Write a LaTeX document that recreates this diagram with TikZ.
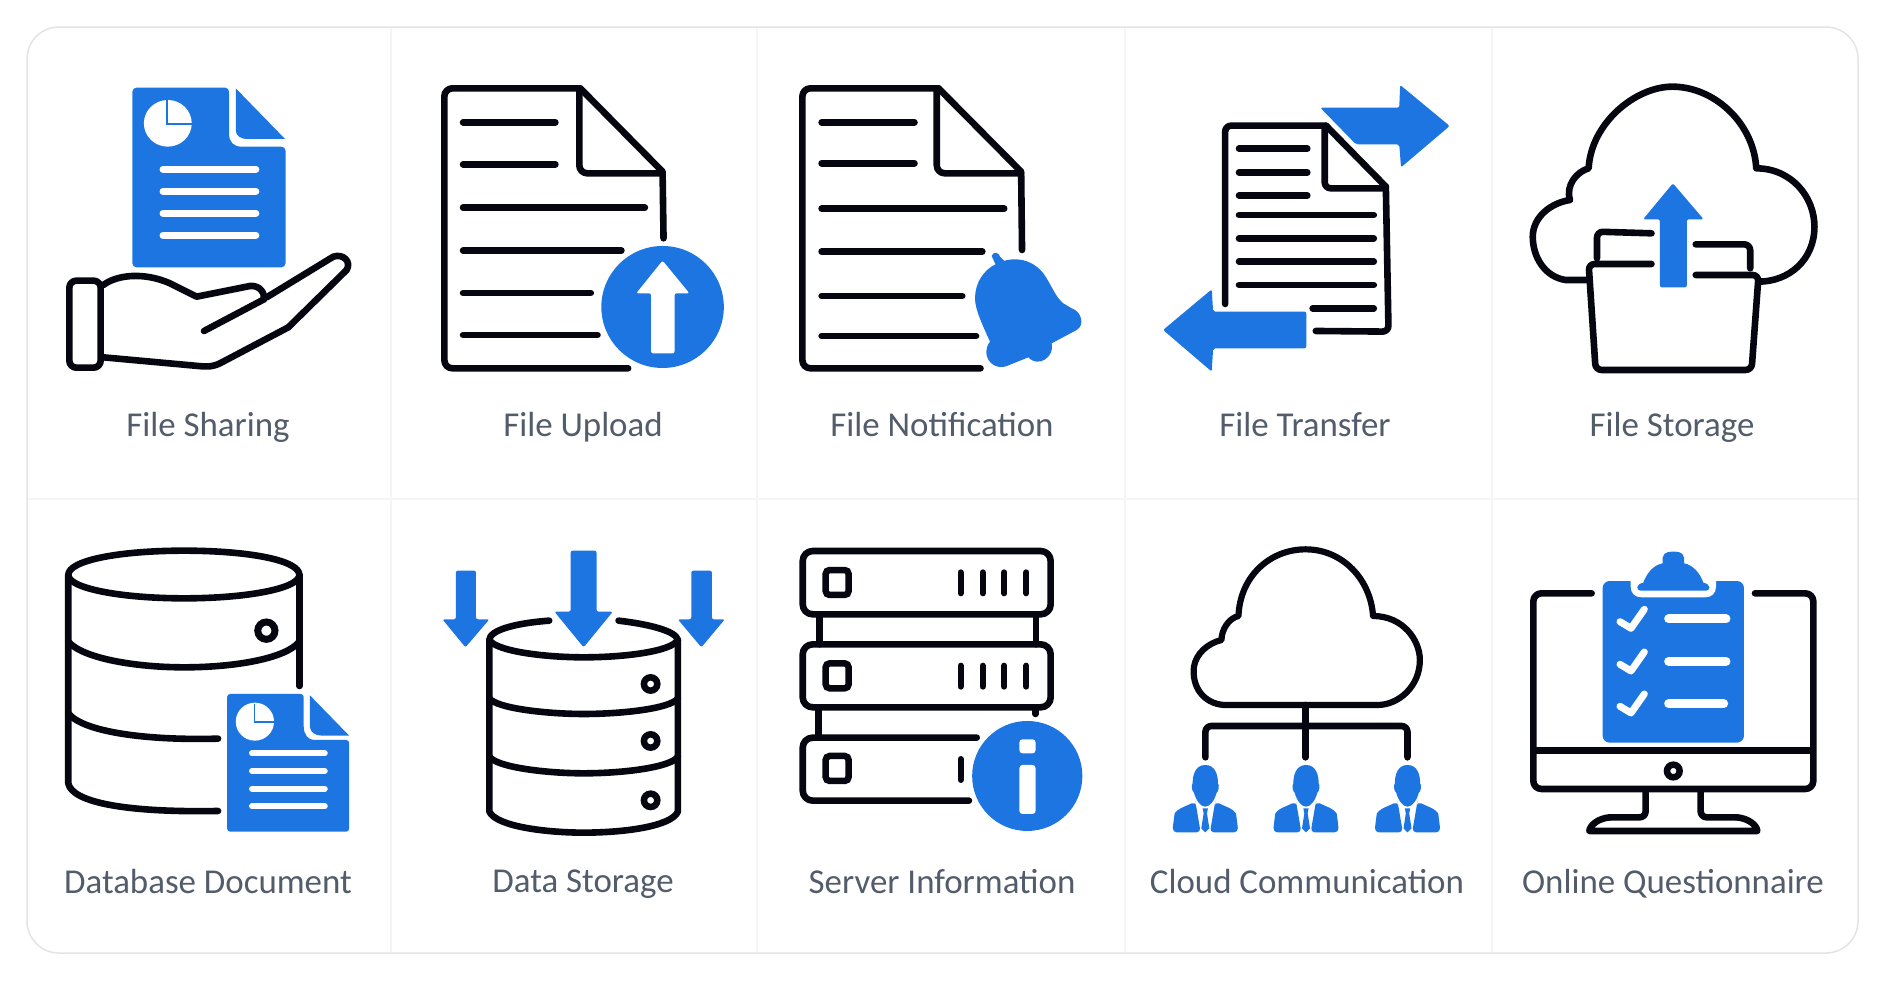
\documentclass[tikz,border=0pt]{standalone}
\usepackage{fontspec}
\setmainfont{Carlito}
\definecolor{iconblue}{HTML}{1D75E1}
\definecolor{ink}{HTML}{05060F}
\definecolor{labelgrey}{HTML}{525C6B}
\definecolor{cardedge}{HTML}{E4E4E7}
\definecolor{gridline}{HTML}{F5F5F7}
\tikzset{
  zonea/.style={shift={(30,30)},xscale=0.4785,yscale=0.3333},
  zoneb/.style={shift={(760,30)},xscale=0.4464,yscale=0.3333},
  zonec/.style={shift={(1130,60)},xscale=0.4656,yscale=0.3333},
  zoned/.style={shift={(30,510)},xscale=0.4785,yscale=0.3333},
  zonee/.style={shift={(760,510)},xscale=0.4592,yscale=0.3333},
  zonef/.style={shift={(1480,510)},xscale=0.3333,yscale=0.3333},
  ic/.style={draw=ink,line width=6.6pt,line cap=round,line join=round},
  wl/.style={draw=white,line width=7pt,line cap=round},
  bf/.style={fill=iconblue,rounded corners=2pt},
  lab/.style={text=labelgrey,anchor=base,font=\fontsize{34.9}{40}\selectfont,inner sep=0pt}
}
\begin{document}
\begin{tikzpicture}[x=1pt,y=-1pt]
\fill[white] (0,0) rectangle (1885,980);
\useasboundingbox (0,0) rectangle (1885,980);
% card
\draw[gridline,line width=1.5pt] (391,28)--(391,952) (757,28)--(757,952) (1125,28)--(1125,952) (1492,28)--(1492,952) (28,499)--(1857,499);
\draw[cardedge,line width=1.5pt,rounded corners=32pt] (27,27) rectangle (1858,953);

% ---- File Sharing
\begin{scope}[zonea]
\fill[bf,rounded corners=4pt] (214,173) -- (416,173) -- (416,300) .. controls (416,335) and (425,350) .. (450,350) -- (534,350) -- (534,712) -- (214,712) -- cycle;
\fill[iconblue] (430,175) -- (533,327) -- (455,327) .. controls (438,327) and (430,315) .. (430,300) -- cycle;
\fill[white] (288,280) ellipse [x radius=50,y radius=70];
\draw[iconblue,line width=2pt] (286,208) -- (286,283) -- (340,283);
\foreach \y in {418,484,550,616} \draw[wl] (278,\y) -- (472,\y);
\end{scope}
\begin{scope}[shift={(55,240)},scale=0.3333]
\draw[ic,rounded corners=7pt] (43,122) rectangle (137,383);
\draw[ic] (145,135) .. controls (185,105) and (265,95) .. (345,130) -- (425,170) -- (585,138) .. controls (615,135) and (630,160) .. (627,178) -- (447,273);
\draw[ic] (635,172) -- (835,50) .. controls (865,40) and (890,65) .. (875,90) -- (700,262) -- (495,370) .. controls (470,382) and (450,380) .. (430,378) -- (145,352);
\end{scope}

% ---- File Upload
\begin{scope}[zonea]
\draw[ic,rounded corners=8pt] (1250,1015) -- (866,1015) -- (866,175) -- (1150,175);
\draw[ic] (1150,175) -- (1322,425) -- (1324,625);
\draw[ic,rounded corners=8pt] (1148,180) -- (1148,430) -- (1322,430);
\draw[ic] (905,277) -- (1098,277) (905,403) -- (1098,403) (905,533) -- (1285,533) (905,662) -- (1236,662) (905,789) -- (1172,789) (905,915) -- (1186,915);
\fill[iconblue] (1322,831) ellipse [x radius=128,y radius=183];
\fill[white,rounded corners=2pt] (1322,692) -- (1378,790) -- (1347,790) -- (1347,970) -- (1298,970) -- (1298,790) -- (1267,790) -- cycle;
\end{scope}

% ---- File Notification
\begin{scope}[zoneb]
\draw[ic,rounded corners=8pt] (494,1015) -- (95,1015) -- (95,175) -- (400,175);
\draw[ic] (400,175) -- (585,425) -- (587,660);
\draw[ic,rounded corners=8pt] (396,180) -- (396,430) -- (585,430);
\draw[ic] (138,277) -- (346,277) (138,400) -- (346,400) (138,536) -- (547,536) (138,665) -- (498,665) (138,798) -- (453,798) (138,918) -- (484,918);
\end{scope}
\begin{scope}[shift={(960,240)},scale=0.3333]
\fill[iconblue] (108,72) .. controls (150,50) and (210,50) .. (250,100) .. controls (275,135) and (285,170) .. (310,190) -- (335,205) .. controls (365,215) and (375,255) .. (350,270) -- (275,310) .. controls (285,350) and (235,385) .. (205,352) -- (135,380) .. controls (95,390) and (60,345) .. (90,305) .. controls (70,260) and (45,210) .. (45,175) .. controls (45,130) and (70,90) .. (108,72) -- cycle;
\fill[iconblue] (95,48) .. controls (100,32) and (118,38) .. (120,50) -- (132,62) -- (108,76) -- cycle;
\end{scope}

% ---- File Transfer
\begin{scope}[zoneb]
\fill[bf] (1255,233) -- (1432,233) -- (1434,165) -- (1545,288) -- (1436,412) -- (1432,343) -- (1335,343) -- cycle;
\draw[ic,rounded corners=6pt] (1042,822) -- (1042,287) -- (1268,287);
\draw[ic] (1268,287) -- (1402,470);
\draw[ic,rounded corners=6pt] (1402,470) -- (1408,905) -- (1245,903);
\draw[ic,rounded corners=6pt] (1265,290) -- (1265,475) -- (1400,475);
\draw[ic] (1073,356) -- (1226,356) (1073,427) -- (1226,427) (1073,497) -- (1226,497) (1073,555) -- (1375,555) (1073,625) -- (1375,625) (1073,695) -- (1375,695) (1073,765) -- (1375,765) (1238,835) -- (1375,835);
\fill[bf] (903,900) -- (1012,778) -- (1015,845) -- (1224,845) -- (1224,955) -- (1015,955) -- (1012,1025) -- cycle;
\end{scope}

% ---- File Storage
\begin{scope}[zonec]
\draw[ic,line join=round] (980,660) -- (935,660) .. controls (890,650) and (865,590) .. (865,530) .. controls (865,475) and (900,430) .. (945,420) .. controls (935,375) and (960,335) .. (985,325) .. controls (990,190) and (1085,80) .. (1165,80) .. controls (1255,80) and (1340,190) .. (1345,325) .. controls (1420,325) and (1470,410) .. (1470,500) .. controls (1470,600) and (1415,665) .. (1350,665);
\draw[ic,rounded corners=6pt] (1120,612) -- (985,612) -- (1000,930) -- (1335,930) -- (1350,645) -- (1215,645);
\draw[ic,rounded corners=6pt] (1120,520) -- (1003,515) -- (1003,595);
\draw[ic,rounded corners=6pt] (1215,553) -- (1332,553) -- (1332,625);
\fill[bf] (1166,370) -- (1232,478) -- (1196,478) -- (1196,682) -- (1138,682) -- (1138,478) -- (1102,478) -- cycle;
\end{scope}

% ---- Database Document
\begin{scope}[zoned]
\draw[ic] (322,122) .. controls (190,122) and (80,150) .. (80,195) .. controls (80,235) and (190,265) .. (322,265) .. controls (455,265) and (563,235) .. (563,195) .. controls (563,150) and (455,122) .. (322,122) -- cycle;
\draw[ic] (80,195) -- (80,820) .. controls (88,880) and (210,908) .. (393,903);
\draw[ic] (563,195) -- (563,528);
\draw[ic] (80,395) .. controls (110,445) and (220,472) .. (322,472) .. controls (430,472) and (535,445) .. (563,395);
\draw[ic] (80,610) .. controls (110,665) and (240,692) .. (393,686);
\draw[ink,line width=7pt] (494,362) ellipse [x radius=18,y radius=26];
\fill[bf,rounded corners=3pt] (412,552) -- (572,552) -- (572,640) .. controls (572,675) and (582,690) .. (600,690) -- (667,690) -- (667,965) -- (412,965) -- cycle;
\fill[iconblue] (585,556) -- (667,677) -- (610,677) .. controls (595,677) and (585,665) .. (585,650) -- cycle;
\fill[white] (470,635) ellipse [x radius=40,y radius=57];
\draw[iconblue,line width=1.5pt] (469,583) -- (469,636) -- (512,636);
\foreach \y in {730,783,836,889} \draw[draw=white,line width=6pt,line cap=round] (464,\y) -- (616,\y);
\end{scope}

% ---- Data Storage
\begin{scope}[zoned]
\draw[ic] (1085,332) .. controls (1010,340) and (960,362) .. (960,390) .. controls (975,425) and (1080,442) .. (1157,442) .. controls (1240,442) and (1340,425) .. (1354,390) .. controls (1350,362) and (1290,342) .. (1230,332);
\draw[ic] (960,390) -- (960,905) .. controls (975,950) and (1080,968) .. (1157,968) .. controls (1240,968) and (1340,950) .. (1354,905) -- (1354,390);
\draw[ic] (960,565) .. controls (975,595) and (1080,612) .. (1157,612) .. controls (1240,612) and (1340,595) .. (1354,565);
\draw[ic] (960,740) .. controls (975,772) and (1080,790) .. (1157,790) .. controls (1240,790) and (1340,772) .. (1354,740);
\foreach \y in {522,693,871} \draw[ink,line width=6.5pt] (1297,\y) ellipse [x radius=14,y radius=20];
\fill[bf] (1130,122) -- (1184,122) -- (1184,305) -- (1218,305) -- (1157,412) -- (1096,305) -- (1130,305) -- cycle;
\fill[bf] (890,182) -- (932,182) -- (932,328) -- (960,328) -- (910,412) -- (862,328) -- (890,328) -- cycle;
\fill[bf] (1382,182) -- (1425,182) -- (1425,328) -- (1452,328) -- (1403,412) -- (1354,328) -- (1382,328) -- cycle;
\end{scope}

% ---- Server Information
\begin{scope}[zonee]
\draw[ic,rounded corners=10pt] (93,123) rectangle (633,313);
\draw[ic,rounded corners=10pt] (93,403) rectangle (633,592);
\draw[ic,rounded corners=10pt] (472,683) -- (93,683) -- (93,872) -- (455,872);
\draw[ic] (129,313) -- (129,403) (601,313) -- (601,403) (127,592) -- (127,683) (600,592) -- (600,612);
\foreach \y in {180,460,738} \draw[ink,line width=6.5pt,rounded corners=4pt] (143,\y) rectangle (193,\y+75);
\foreach \x in {437,485,532,580} \draw[ic,line width=6pt] (\x,187) -- (\x,250) (\x,467) -- (\x,530);
\draw[ic,line width=6pt] (437,747) -- (437,810);
\fill[iconblue] (582,798) ellipse [x radius=120,y radius=165];
\fill[white,rounded corners=3pt] (565,688) rectangle (600,730);
\fill[white,rounded corners=3pt] (565,765) rectangle (600,912);
\end{scope}

% ---- Cloud Communication
\begin{scope}[zonee]
\draw[ic,line width=6.2pt] (1345,585) -- (1010,585) .. controls (965,580) and (940,530) .. (945,470) .. controls (950,430) and (975,400) .. (1005,390) .. controls (1005,360) and (1020,325) .. (1042,318) .. controls (1045,200) and (1110,118) .. (1188,118) .. controls (1270,118) and (1330,210) .. (1335,318) .. controls (1400,318) and (1437,390) .. (1437,450) .. controls (1437,530) and (1390,585) .. (1345,585) -- cycle;
\draw[ic] (1188,585) -- (1188,742);
\draw[ic,rounded corners=6pt] (970,742) -- (970,648) -- (1410,648) -- (1410,742);
\end{scope}
\foreach \c in {1205.3,1306,1407.5} {
\begin{scope}[shift={(\c,750)},scale=0.3333]
  \fill[iconblue] (0,45) .. controls (30,45) and (38,75) .. (38,100) .. controls (43,105) and (40,125) .. (34,128) .. controls (28,150) and (15,170) .. (0,170) .. controls (-15,170) and (-28,150) .. (-34,128) .. controls (-40,125) and (-43,105) .. (-38,100) .. controls (-38,75) and (-30,45) .. (0,45) -- cycle;
  \fill[iconblue,rounded corners=4pt] (-30,155) -- (-85,180) .. controls (-92,190) and (-97,225) .. (-98,247) -- (-14,247) -- (-28,165) -- cycle;
  \fill[iconblue,rounded corners=4pt] (30,155) -- (85,180) .. controls (92,190) and (97,225) .. (98,247) -- (14,247) -- (28,165) -- cycle;
  \fill[iconblue] (-8,175) -- (8,175) -- (5,190) -- (12,235) -- (0,247) -- (-12,235) -- (-5,190) -- cycle;
\end{scope}
}

% ---- Online Questionnaire
\begin{scope}[zonef]
\draw[ic,rounded corners=8pt] (335,250) -- (160,250) -- (160,837) -- (1000,837) -- (1000,250) -- (825,250);
\draw[ic,line cap=butt] (160,722) -- (1000,722);
\draw[ink,line width=6.5pt] (580,783) ellipse [x radius=19,y radius=19];
\draw[ic,rounded corners=6pt,line cap=butt] (497,840) -- (497,922) -- (390,922);
\draw[ic] (390,922) .. controls (355,925) and (330,945) .. (328,963) -- (832,963) .. controls (830,945) and (805,925) .. (770,922);
\draw[ic,rounded corners=6pt,line cap=butt] (770,922) -- (662,922) -- (662,840);
\fill[iconblue,rounded corners=7pt] (368,213) rectangle (792,698);
\foreach \y in {0,128,254} {
  \draw[white,line width=7pt,line cap=round,line join=round] (420,{335+\y}) -- (453,{355+\y}) -- (493,{298+\y});
}
\draw[draw=white,line width=9pt,line cap=round] (566,327) -- (738,327) (566,454) -- (738,454) (566,581) -- (731,581);
\end{scope}
\begin{scope}[shift={(1590,540)},scale=0.3333]
\fill[white] (122,112) -- (122,140) .. controls (122,160) and (135,172) .. (155,172) -- (345,172) .. controls (365,172) and (378,160) .. (378,140) -- (378,112) -- cycle;
\fill[iconblue] (218,70) .. controls (215,40) and (225,35) .. (250,35) .. controls (275,35) and (285,40) .. (282,70) .. controls (310,75) and (330,100) .. (340,128) .. controls (362,132) and (365,152) .. (345,152) -- (155,152) .. controls (135,152) and (138,132) .. (160,128) .. controls (170,100) and (190,75) .. (218,70) -- cycle;
\end{scope}

% ---- Labels
\node[lab] (l1) at (208,436) {File Sharing};
\node[lab] (l2) at (583,436) {File Upload};
\node[lab] (l3) at (942,436) {File Notification};
\node[lab] (l4) at (1305,436) {File Transfer};
\node[lab] (l5) at (1672,436) {File Storage};
\node[lab] (l6) at (208,893) {Database Document};
\node[lab] (l7) at (583,892) {Data Storage};
\node[lab] (l8) at (942,893) {Server Information};
\node[lab] (l9) at (1307,893) {Cloud Communication};
\node[lab] (l10) at (1673,893) {Online Questionnaire};
\end{tikzpicture}
\end{document}
